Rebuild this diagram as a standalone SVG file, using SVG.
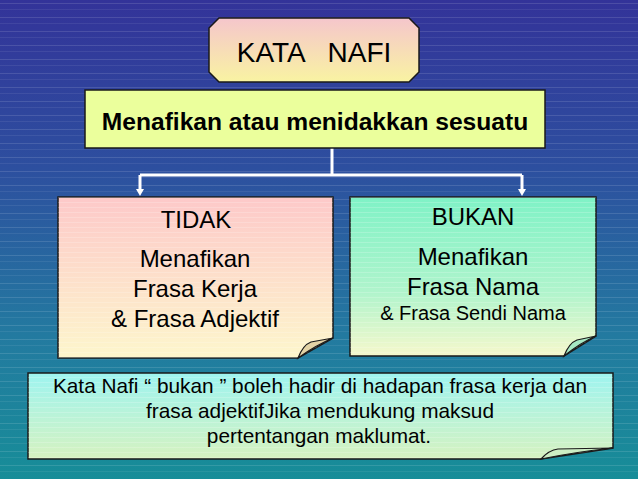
<svg xmlns="http://www.w3.org/2000/svg" width="638" height="479" viewBox="0 0 638 479">
<defs>
<linearGradient id="bg" x1="0" y1="0" x2="0" y2="1">
<stop offset="0" stop-color="#333399"/>
<stop offset="0.35" stop-color="#2d4f9f"/>
<stop offset="0.7" stop-color="#237aa0"/>
<stop offset="1" stop-color="#178d98"/>
</linearGradient>
<pattern id="stripes" width="638" height="14" patternUnits="userSpaceOnUse">
<rect x="0" y="3" width="638" height="1" fill="#ffffff" opacity="0.12"/>
<rect x="0" y="9" width="638" height="1" fill="#ffffff" opacity="0.07"/>
</pattern>
<linearGradient id="gTitle" x1="0" y1="0" x2="0" y2="1">
<stop offset="0" stop-color="#f5c6cc"/>
<stop offset="1" stop-color="#f9f3a2"/>
</linearGradient>
<linearGradient id="gTidak" x1="0" y1="0" x2="0" y2="1">
<stop offset="0" stop-color="#fdc9c9"/>
<stop offset="1" stop-color="#fdf6cc"/>
</linearGradient>
<linearGradient id="gBukan" x1="0" y1="0" x2="0" y2="1">
<stop offset="0" stop-color="#7ff2c6"/>
<stop offset="0.6" stop-color="#b0f4cc"/>
<stop offset="1" stop-color="#f6f8cc"/>
</linearGradient>
<linearGradient id="gNote" x1="0" y1="0" x2="0" y2="1">
<stop offset="0" stop-color="#9ef4f0"/>
<stop offset="1" stop-color="#d6f2c0"/>
</linearGradient>
<pattern id="boxlines" width="10" height="5" patternUnits="userSpaceOnUse">
<rect x="0" y="2" width="10" height="1" fill="#ffffff" opacity="0.18"/>
</pattern>
<marker id="arr" viewBox="0 0 7 8" refX="0" refY="4" markerWidth="7" markerHeight="8" orient="auto" markerUnits="userSpaceOnUse">
<path d="M0,0 L7,4 L0,8 Z" fill="#ffffff"/>
</marker>
</defs>
<style>
.box{stroke:#1a1a1a;stroke-width:1.5}
.curl{fill:#e3d3a6;stroke:#1a1a1a;stroke-width:1.2}
.t{font-family:"Liberation Sans",Arial,sans-serif;fill:#000;text-anchor:middle}
.conn{stroke:#ffffff;stroke-width:3;fill:none}
</style>
<rect width="638" height="479" fill="url(#bg)"/>
<rect width="638" height="479" fill="url(#stripes)"/>

<g id="connectors">
<path class="conn" d="M332,148 V175"/>
<path class="conn" d="M140,175 H522"/>
<path class="conn" d="M140,175 V189" marker-end="url(#arr)"/>
<path class="conn" d="M522,175 V189" marker-end="url(#arr)"/>
</g>

<g id="title">
<path class="box" fill="url(#gTitle)" d="M219,18 H409 L419,28 V72 L409,82 H219 L209,72 V28 Z"/>
<text class="t" x="314" y="62" font-size="28" xml:space="preserve">KATA   NAFI</text>
</g>

<g id="definition">
<rect class="box" x="85" y="90" width="460" height="58" fill="#ebff9c"/>
<text class="t" x="315" y="130" font-size="24.6" font-weight="bold">Menafikan atau menidakkan sesuatu</text>
</g>

<g id="tidak">
<path class="box" fill="url(#gTidak)" d="M58,197 H333 V338 L298,358 H58 Z"/>
<path fill="url(#boxlines)" d="M58,197 H333 V338 L298,358 H58 Z"/>
<path class="curl" d="M298,358 Q303,345 311,342 L333,338 Q316,345 298,358 Z"/>
<text class="t" x="196" y="228" font-size="24">TIDAK</text>
<text class="t" x="195" y="267" font-size="24">Menafikan</text>
<text class="t" x="195" y="297" font-size="24">Frasa Kerja</text>
<text class="t" x="195" y="327" font-size="24">&amp; Frasa Adjektif</text>
</g>

<g id="bukan">
<path class="box" fill="url(#gBukan)" d="M350,197 H596 V336 L564,356 H350 Z"/>
<path fill="url(#boxlines)" d="M350,197 H596 V336 L564,356 H350 Z"/>
<path class="curl" style="fill:#a6e8c4" d="M564,356 Q569,343 577,340 L596,336 Q580,343 564,356 Z"/>
<text class="t" x="473" y="225" font-size="24">BUKAN</text>
<text class="t" x="473" y="265" font-size="24">Menafikan</text>
<text class="t" x="473" y="295" font-size="24">Frasa Nama</text>
<text class="t" x="473" y="320" font-size="20">&amp; Frasa Sendi Nama</text>
</g>

<g id="note">
<path class="box" fill="url(#gNote)" d="M28,373 H613 V448 L541,459 H28 Z"/>
<path fill="url(#boxlines)" d="M28,373 H613 V448 L541,459 H28 Z"/>
<path class="curl" style="fill:#cdeec4" d="M541,459 Q549,450 558,449 L613,448 Q575,452 541,459 Z"/>
<text class="t" x="320" y="393" font-size="20.8">Kata Nafi “ bukan ” boleh hadir di hadapan frasa kerja dan</text>
<text class="t" x="320" y="418" font-size="20.8">frasa adjektifJika mendukung maksud</text>
<text class="t" x="319" y="443" font-size="20.8">pertentangan maklumat.</text>
</g>
</svg>
